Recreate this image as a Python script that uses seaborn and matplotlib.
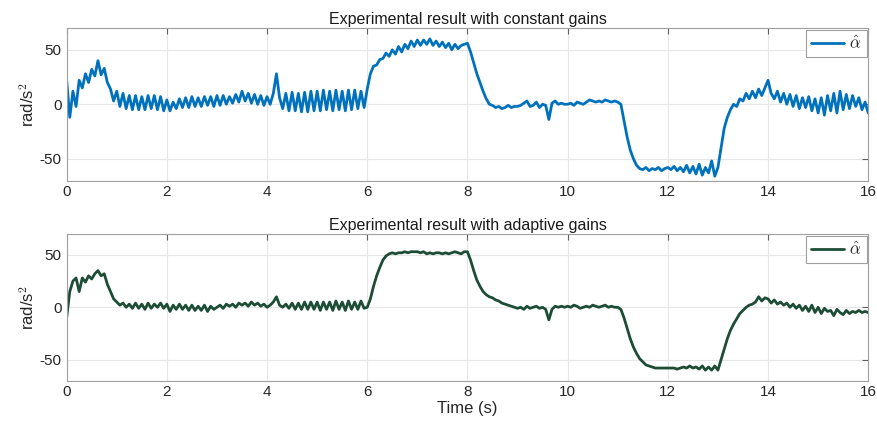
import numpy as np
import pandas as pd
import matplotlib
matplotlib.use("Agg")
import matplotlib.pyplot as plt
import seaborn as sns

# sample time step (s), values every 1/16 s
dt = 0.0625

# experimental result, constant gains (rad/s^2), one row per second
constant_gains = [
    22, -12, 12, -2, 22, 15, 28, 20, 32, 26, 40, 27, 33, 20, 14, 3,
    12, -2, 10, -4, 8, -5, 8, -5, 7, -5, 8, -4, 8, -5, 7, -6,
    4, -6, 2, -4, 5, -3, 6, -3, 7, -2, 6, -2, 7, -1, 7, -2,
    8, -1, 8, 0, 7, 1, 9, 2, 12, 3, 10, 1, 9, 0, 8, -1,
    7, 0, 10, 28, 6, -4, 10, -6, 11, -6, 10, -7, 11, -7, 12, -6,
    12, -6, 13, -5, 12, -6, 13, -5, 12, -6, 13, -5, 13, -4, 12, -3,
    14, 28, 35, 36, 41, 42, 47, 44, 50, 46, 53, 48, 55, 51, 58, 53,
    59, 54, 59, 55, 60, 54, 58, 53, 57, 52, 56, 50, 55, 51, 54, 55,
    56, 48, 38, 28, 20, 12, 5, 0, -1, -3, -2, -4, -3, -1, -3, -2,
    -2, -1, 1, 3, -2, -1, 2, -3, 0, -1, -14, 1, 3, 0, 1, 0,
    0, 1, -1, 2, 1, 0, 2, 4, 3, 2, 3, 2, 4, 3, 2, 3,
    2, 0, -15, -30, -42, -50, -56, -59, -60, -58, -61, -59, -60, -58, -61, -59,
    -58, -60, -57, -61, -58, -62, -56, -63, -57, -64, -55, -65, -58, -63, -52, -66,
    -58, -40, -22, -12, -5, 0, -2, 5, 3, 10, 5, 12, 6, 14, 8, 15,
    22, 10, 5, 12, 2, 10, 0, 9, -2, 8, -4, 6, -3, 7, -6, 5,
    -8, 6, -10, 8, -6, 10, -8, 12, -5, 9, -4, 8, -2, 6, -5, 2,
    -8,
]

# experimental result, adaptive gains (rad/s^2)
adaptive_gains = [
    -10, 15, 25, 28, 15, 28, 24, 30, 27, 32, 35, 30, 32, 22, 15, 8,
    5, 2, 4, 0, 3, -1, 4, -1, 3, -2, 4, -1, 3, 0, 4, -1,
    3, -4, 2, -2, 3, -2, 2, -3, 2, -3, 1, -3, 2, -4, 1, -2,
    0, 2, -1, 3, 1, 3, 0, 4, 2, 4, 1, 5, 2, 4, 1, 3,
    0, 2, 5, 10, 2, 0, 3, -1, 4, -2, 4, -2, 5, -2, 5, -2,
    5, -3, 5, -2, 5, -3, 6, -2, 5, -3, 6, -2, 5, -2, 6, -1,
    0, 8, 20, 30, 38, 45, 49, 51, 52, 51, 52, 52, 53, 52, 53, 53,
    53, 52, 53, 51, 52, 51, 52, 52, 51, 52, 51, 52, 53, 52, 51, 53,
    53, 45, 35, 26, 20, 15, 12, 10, 9, 7, 6, 4, 3, 2, 1, 0,
    -1, 0, -2, 1, -1, 0, 1, -1, 0, -2, -12, -2, 1, 0, 1, 0,
    1, 0, 2, 1, -1, 0, 1, 0, 2, 1, 0, 1, 2, 0, 1, 0,
    0, -2, -10, -20, -30, -38, -44, -49, -52, -55, -56, -57, -58, -58, -58, -58,
    -58, -58, -58, -59, -58, -57, -58, -56, -58, -57, -59, -56, -60, -57, -60, -56,
    -60, -50, -40, -30, -22, -16, -11, -6, -3, 0, 2, 3, 5, 10, 6, 9,
    8, 4, 7, 3, 5, 2, 4, 0, 3, -1, 2, -3, 1, -4, 2, -5,
    0, -6, -1, -4, -3, -8, -2, -5, -7, -3, -6, -4, -5, -3, -5, -4,
    -5,
]

titles = ["Experimental result with constant gains",
          "Experimental result with adaptive gains"]
colors = ["#0072BD", "#1d4d36"]

t = np.arange(len(constant_gains)) * dt
df = pd.DataFrame({"t": t, "constant": constant_gains, "adaptive": adaptive_gains})

sns.set_style("white")
plt.rcParams["font.family"] = ["Liberation Sans", "DejaVu Sans"]
plt.rcParams["mathtext.fontset"] = "cm"
plt.rcParams["axes.unicode_minus"] = False

fig = plt.figure(figsize=(8.77, 4.34), dpi=100)
ax1 = fig.add_axes([0.076, 0.584, 0.914, 0.3515])
ax2 = fig.add_axes([0.076, 0.123, 0.914, 0.338])

for ax, col, title, color in zip([ax1, ax2], ["constant", "adaptive"], titles, colors):
    sns.lineplot(data=df, x="t", y=col, ax=ax, color=color, linewidth=2.0,
                 label=r"$\hat{\alpha}$")
    ax.set_xlim(0, 16)
    ax.set_ylim(-70, 70)
    ax.set_xticks(range(0, 17, 2))
    ax.set_yticks([-50, 0, 50])
    ax.grid(True, color="#e6e6e6", linewidth=0.8)
    for s in ax.spines.values():
        s.set_color("#a0a0a0")
        s.set_linewidth(0.8)
    ax.tick_params(direction="in", top=True, right=True, length=4,
                   color="#606060", labelsize=11, labelcolor="#262626")
    ax.set_title(title, fontsize=11.5, color="#1a1a1a", pad=3)
    ax.set_ylabel("rad/s$^2$", fontsize=12, color="#262626", labelpad=2)
    ax.set_xlabel("")
    leg = ax.legend(loc="upper right", fontsize=12, handlelength=2.0,
                    borderaxespad=0.1, fancybox=False, framealpha=1,
                    borderpad=0.3, handletextpad=0.3)
    leg.get_frame().set_edgecolor("#a0a0a0")
    leg.get_frame().set_linewidth(0.8)

ax2.set_xlabel("Time (s)", fontsize=12, color="#262626", labelpad=1)

fig.savefig("out.png", dpi=100)
